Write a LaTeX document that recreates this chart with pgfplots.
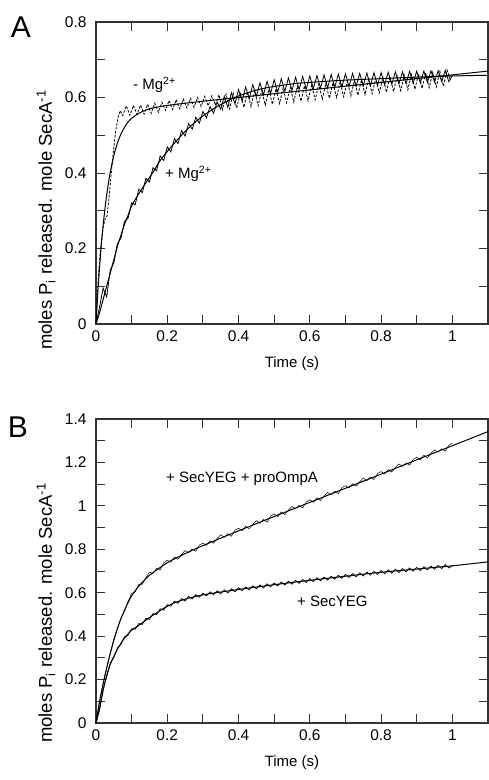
\documentclass[border=0pt]{standalone}
\usepackage{fontspec}
\setmainfont{Liberation Sans}
\usepackage{pgfplots}
\pgfplotsset{compat=1.18}
\begin{document}
\begin{tikzpicture}
\useasboundingbox (0pt,0pt) rectangle (489pt,780pt);
\pgfplotsset{panel/.style={
  scale only axis, width=392pt, xmin=0, xmax=1.1,
  xtick={0,0.2,0.4,0.6,0.8,1},
  minor x tick num=1, minor y tick num=1,
  major tick length=9pt, minor tick length=9pt,
  tick style={line width=0.9pt, color=black!80},
  axis line style={line width=1.1pt, black!80},
  ticklabel style={font=\fontsize{15.5}{18}\selectfont},
  /pgf/number format/assume math mode=true,
  xticklabel style={yshift=-3pt},
  yticklabel style={xshift=-6pt},
  xlabel={Time (s)},
  xlabel style={font=\fontsize{15}{18}\selectfont, at={(axis description cs:0.5,0)}, anchor=center, yshift=-40pt},
  clip=false
}}
% ---------------- Panel A ----------------
\begin{axis}[panel, at={(96pt,456pt)}, anchor=south west, height=302pt,
  ymin=0, ymax=0.8, ytick={0,0.2,0.4,0.6,0.8}]
% - Mg2+ fit
\addplot[black, line width=1pt, smooth] coordinates {
(0,0)(0.005,0.081)(0.01,0.150)(0.015,0.210)(0.02,0.261)(0.025,0.304)(0.03,0.342)
(0.04,0.402)(0.05,0.446)(0.06,0.479)(0.07,0.503)(0.08,0.521)(0.09,0.535)(0.1,0.545)
(0.12,0.558)(0.15,0.570)(0.2,0.579)(0.3,0.590)(0.5,0.610)(0.7,0.630)(0.9,0.650)(1.1,0.670)};
% + Mg2+ fit
\addplot[black, line width=1pt, smooth] coordinates {
(0,0)(0.01,0.03)(0.02,0.065)(0.03,0.10)(0.04,0.135)(0.05,0.17)(0.06,0.205)(0.07,0.235)
(0.08,0.264)(0.09,0.288)(0.10,0.313)(0.12,0.345)(0.14,0.374)(0.16,0.402)(0.18,0.433)
(0.20,0.457)(0.22,0.479)(0.24,0.50)(0.26,0.519)(0.28,0.536)(0.30,0.551)(0.32,0.564)
(0.34,0.576)(0.36,0.586)(0.38,0.596)(0.40,0.604)(0.44,0.617)(0.48,0.626)(0.55,0.636)
(0.6,0.64)(0.7,0.646)(0.8,0.650)(0.9,0.654)(1.0,0.657)(1.1,0.659)};
% + Mg2+ data
\addplot[black, line width=0.8pt] coordinates {
(0,0)(0.01,0.045)(0.02,0.095)(0.03,0.072)(0.04,0.143)(0.05,0.162)(0.06,0.213)(0.07,0.227)
(0.08,0.272)(0.09,0.280)(0.10,0.321)(0.11,0.316)(0.12,0.357)(0.13,0.348)(0.14,0.386)
(0.15,0.376)(0.16,0.414)(0.17,0.406)(0.18,0.445)(0.19,0.433)(0.20,0.469)(0.21,0.456)
(0.22,0.491)(0.23,0.478)(0.24,0.512)(0.25,0.498)(0.26,0.531)(0.27,0.516)(0.28,0.548)
(0.29,0.532)(0.30,0.563)(0.31,0.546)(0.32,0.576)(0.33,0.558)(0.34,0.588)(0.35,0.569)
(0.36,0.603)(0.37,0.574)(0.38,0.613)(0.39,0.583)(0.40,0.621)(0.41,0.591)(0.42,0.628)
(0.43,0.597)(0.44,0.634)(0.45,0.603)(0.46,0.639)(0.47,0.607)(0.48,0.643)(0.49,0.611)
(0.50,0.647)(0.51,0.614)(0.52,0.650)(0.53,0.617)(0.54,0.652)(0.55,0.619)(0.56,0.654)
(0.57,0.621)(0.58,0.656)(0.59,0.622)(0.60,0.657)(0.61,0.624)(0.62,0.658)(0.63,0.625)
(0.64,0.660)(0.65,0.626)(0.66,0.661)(0.67,0.627)(0.68,0.662)(0.69,0.628)(0.70,0.663)
(0.71,0.629)(0.72,0.664)(0.73,0.630)(0.74,0.664)(0.75,0.631)(0.76,0.665)(0.77,0.631)
(0.78,0.666)(0.79,0.632)(0.80,0.666)(0.81,0.634)(0.82,0.667)(0.83,0.635)(0.84,0.668)
(0.85,0.636)(0.86,0.668)(0.87,0.637)(0.88,0.669)(0.89,0.638)(0.90,0.670)(0.91,0.639)
(0.92,0.670)(0.93,0.640)(0.94,0.671)(0.95,0.641)(0.96,0.671)(0.97,0.642)(0.98,0.672)
(0.99,0.642)(1.00,0.658)};
% - Mg2+ data
\addplot[black, line width=0.8pt, dash pattern=on 2.5pt off 1.5pt] coordinates {
(0,0)(0.005,0.10)(0.01,0.17)(0.015,0.22)(0.02,0.255)(0.026,0.28)(0.031,0.286)(0.036,0.33)
(0.042,0.39)(0.048,0.45)(0.055,0.51)(0.062,0.548)(0.068,0.565)
(0.075,0.552)(0.085,0.578)(0.095,0.553)(0.105,0.579)(0.115,0.555)(0.125,0.580)
(0.135,0.556)(0.145,0.582)(0.155,0.558)(0.165,0.585)(0.175,0.561)(0.185,0.587)
(0.195,0.566)(0.205,0.592)(0.215,0.568)(0.225,0.594)(0.235,0.570)(0.245,0.596)
(0.255,0.572)(0.265,0.598)(0.275,0.574)(0.285,0.600)(0.295,0.576)(0.305,0.603)
(0.315,0.578)(0.325,0.605)(0.335,0.580)(0.345,0.607)
(0.355,0.568)(0.365,0.609)(0.375,0.570)(0.385,0.611)(0.395,0.572)(0.405,0.613)
(0.415,0.574)(0.425,0.615)(0.435,0.576)(0.445,0.617)(0.455,0.578)(0.465,0.619)
(0.475,0.580)(0.485,0.621)(0.495,0.582)(0.505,0.623)(0.515,0.584)(0.525,0.625)
(0.535,0.586)(0.545,0.627)(0.555,0.588)(0.565,0.629)(0.575,0.590)(0.585,0.631)
(0.595,0.592)(0.605,0.633)(0.615,0.594)(0.625,0.635)(0.635,0.596)(0.645,0.637)
(0.655,0.598)(0.665,0.639)(0.675,0.600)(0.685,0.641)(0.695,0.602)(0.705,0.643)
(0.715,0.604)(0.725,0.645)(0.735,0.606)(0.745,0.647)(0.755,0.608)(0.765,0.649)
(0.775,0.610)(0.785,0.651)(0.795,0.612)(0.805,0.653)(0.815,0.614)(0.825,0.655)
(0.835,0.616)(0.845,0.657)(0.855,0.618)(0.865,0.659)(0.875,0.620)(0.885,0.661)
(0.895,0.622)(0.905,0.663)(0.915,0.624)(0.925,0.665)(0.935,0.626)(0.945,0.667)
(0.955,0.628)(0.965,0.669)(0.975,0.630)(0.985,0.673)(0.995,0.645)};
\end{axis}
% ---------------- Panel B ----------------
\begin{axis}[panel, at={(96pt,57pt)}, anchor=south west, height=304pt,
  ymin=0, ymax=1.4, ytick={0,0.2,0.4,0.6,0.8,1,1.2,1.4}]
% + SecYEG + proOmpA fit
\addplot[black, line width=1pt, smooth] coordinates {
(0,0)(0.01,0.1)(0.02,0.18)(0.03,0.255)(0.04,0.32)(0.05,0.38)(0.06,0.435)(0.07,0.48)
(0.08,0.52)(0.09,0.555)(0.1,0.585)(0.12,0.630)(0.15,0.680)(0.2,0.738)(0.25,0.780)
(0.3,0.817)(0.4,0.885)(0.5,0.951)(0.6,1.016)(0.7,1.081)(0.8,1.146)(0.9,1.212)(1.0,1.277)(1.1,1.342)};
% + SecYEG + proOmpA data
\addplot[black, line width=0.5pt] coordinates {
(0,0)(0.01,0.097)(0.02,0.184)(0.03,0.250)(0.04,0.322)(0.05,0.387)(0.06,0.433)(0.07,0.483)
(0.08,0.514)(0.09,0.560)(0.10,0.597)(0.11,0.604)(0.12,0.638)(0.13,0.639)(0.14,0.669)
(0.15,0.694)(0.16,0.689)(0.17,0.712)(0.18,0.705)(0.19,0.737)(0.20,0.750)(0.21,0.741)
(0.22,0.764)(0.23,0.754)(0.24,0.776)(0.25,0.794)(0.26,0.784)(0.27,0.801)(0.28,0.791)
(0.29,0.819)(0.30,0.829)(0.31,0.818)(0.32,0.839)(0.33,0.828)(0.34,0.849)(0.35,0.867)
(0.36,0.855)(0.37,0.872)(0.38,0.860)(0.39,0.888)(0.40,0.897)(0.41,0.886)(0.42,0.906)
(0.43,0.895)(0.44,0.915)(0.45,0.932)(0.46,0.920)(0.47,0.937)(0.48,0.925)(0.49,0.953)
(0.50,0.963)(0.51,0.951)(0.52,0.972)(0.53,0.960)(0.54,0.981)(0.55,0.997)(0.56,0.986)
(0.57,1.002)(0.58,0.991)(0.59,1.018)(0.60,1.028)(0.61,1.016)(0.62,1.037)(0.63,1.025)
(0.64,1.046)(0.65,1.062)(0.66,1.051)(0.67,1.068)(0.68,1.056)(0.69,1.084)(0.70,1.093)
(0.71,1.082)(0.72,1.102)(0.73,1.091)(0.74,1.111)(0.75,1.128)(0.76,1.116)(0.77,1.133)
(0.78,1.121)(0.79,1.149)(0.80,1.158)(0.81,1.147)(0.82,1.167)(0.83,1.156)(0.84,1.177)
(0.85,1.193)(0.86,1.182)(0.87,1.198)(0.88,1.187)(0.89,1.214)(0.90,1.224)(0.91,1.212)
(0.92,1.233)(0.93,1.221)(0.94,1.242)(0.95,1.258)(0.96,1.247)(0.97,1.263)(0.98,1.252)
(0.99,1.279)(1.00,1.289)};
% + SecYEG fit
\addplot[black, line width=1pt, smooth] coordinates {
(0,0)(0.011,0.075)(0.02,0.15)(0.029,0.213)(0.04,0.27)(0.057,0.33)(0.075,0.38)(0.09,0.41)
(0.1,0.428)(0.122,0.452)(0.145,0.48)(0.168,0.505)(0.19,0.528)(0.215,0.55)(0.24,0.565)
(0.262,0.576)(0.3,0.59)(0.341,0.601)(0.4,0.615)(0.5,0.637)(0.6,0.657)(0.7,0.676)
(0.8,0.694)(0.9,0.709)(1.0,0.724)(1.1,0.742)};
% + SecYEG data
\addplot[black, line width=0.7pt] coordinates {
(0,0)(0.01,0.062)(0.02,0.156)(0.03,0.212)(0.04,0.276)(0.05,0.301)(0.06,0.346)(0.07,0.362)
(0.08,0.398)(0.09,0.405)(0.10,0.434)(0.11,0.432)(0.12,0.458)(0.13,0.454)(0.14,0.482)
(0.15,0.477)(0.16,0.504)(0.17,0.499)(0.18,0.526)(0.19,0.520)(0.20,0.545)(0.21,0.538)
(0.22,0.561)(0.23,0.551)(0.24,0.573)(0.25,0.562)(0.26,0.583)(0.27,0.571)(0.28,0.591)
(0.29,0.579)(0.30,0.598)(0.31,0.585)(0.32,0.604)(0.33,0.591)(0.34,0.609)(0.35,0.595)
(0.36,0.613)(0.37,0.599)(0.38,0.618)(0.39,0.604)(0.40,0.623)(0.41,0.609)(0.42,0.627)
(0.43,0.613)(0.44,0.632)(0.45,0.618)(0.46,0.636)(0.47,0.622)(0.48,0.641)(0.49,0.627)
(0.50,0.645)(0.51,0.631)(0.52,0.649)(0.53,0.635)(0.54,0.653)(0.55,0.639)(0.56,0.657)
(0.57,0.643)(0.58,0.661)(0.59,0.647)(0.60,0.665)(0.61,0.651)(0.62,0.669)(0.63,0.655)
(0.64,0.672)(0.65,0.658)(0.66,0.676)(0.67,0.662)(0.68,0.680)(0.69,0.666)(0.70,0.684)
(0.71,0.670)(0.72,0.688)(0.73,0.673)(0.74,0.691)(0.75,0.677)(0.76,0.695)(0.77,0.681)
(0.78,0.698)(0.79,0.684)(0.80,0.702)(0.81,0.687)(0.82,0.705)(0.83,0.690)(0.84,0.708)
(0.85,0.693)(0.86,0.711)(0.87,0.696)(0.88,0.714)(0.89,0.699)(0.90,0.717)(0.91,0.702)
(0.92,0.720)(0.93,0.705)(0.94,0.723)(0.95,0.708)(0.96,0.726)(0.97,0.711)(0.98,0.729)
(0.99,0.714)(1.00,0.724)};
\end{axis}
% ---------------- Texts ----------------
\node[font=\fontsize{30}{34}\selectfont, inner sep=0] at (21pt,753pt) {A};
\node[font=\fontsize{30}{34}\selectfont, inner sep=0] at (18pt,353pt) {B};
\node[font=\fontsize{18.5}{22}\selectfont, rotate=90, inner sep=0] at (46pt,560pt)
  {moles P\textsubscript{i} released. mole SecA\textsuperscript{-1}};
\node[font=\fontsize{18.5}{22}\selectfont, rotate=90, inner sep=0] at (46pt,167pt)
  {moles P\textsubscript{i} released. mole SecA\textsuperscript{-1}};
\node[font=\fontsize{15}{18}\selectfont, anchor=base west, inner sep=0] at (133pt,690pt) {- Mg\textsuperscript{2+}};
\node[font=\fontsize{15}{18}\selectfont, anchor=base west, inner sep=0] at (165pt,601.5pt) {+ Mg\textsuperscript{2+}};
\node[font=\fontsize{15}{18}\selectfont, anchor=base west, inner sep=0] at (166pt,297.5pt) {+ SecYEG + proOmpA};
\node[font=\fontsize{15}{18}\selectfont, anchor=base west, inner sep=0] at (297pt,173.5pt) {+ SecYEG};
\end{tikzpicture}
\end{document}
